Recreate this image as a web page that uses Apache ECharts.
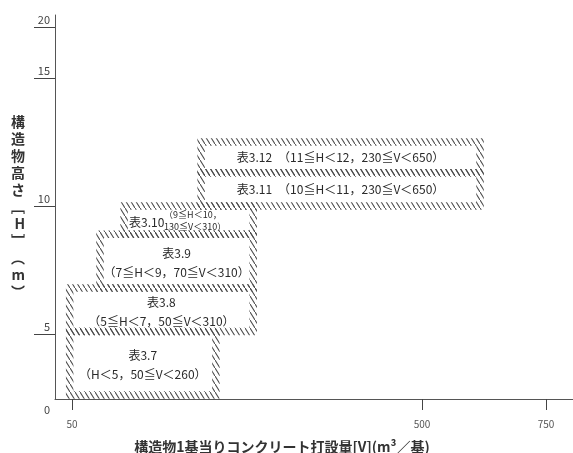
<!DOCTYPE html>
<html>
<head>
<meta charset="utf-8">
<script src="https://cdn.jsdelivr.net/npm/echarts@6/dist/echarts.min.js"></script>
<style>
html, body { margin: 0; padding: 0; background: #fff; }
#chart { width: 573px; height: 453px; }
</style>
</head>
<body>
<div id="chart"></div>
<script>
var tableNames = ['表3.7', '表3.8', '表3.9', '表3.10', '表3.11', '表3.12'];
var rangeTexts = [
    '（H＜5，50≦V＜260）',
    '（5≦H＜7，50≦V＜310）',
    '（7≦H＜9，70≦V＜310）',
    '（9≦H＜10，\n130≦V＜310）',
    '（10≦H＜11，230≦V＜650）',
    '（11≦H＜12，230≦V＜650）'
];
// box extents as they are drawn (V in m3, H in m)
var vFrom = [47, 47, 86, 117, 216, 216];
var vTo   = [235, 283, 283, 283, 617, 617];
var hFrom = [0.3, 5.1, 6.8, 8.9, 10.0, 11.3];
var hTo   = [5.1, 6.8, 8.9, 10.0, 11.3, 12.5];

var xTicks = [50, 500, 750];
var yTicks = [0, 5, 10, 15, 20];

// the printed axes are not linear, so each one is a piecewise scale
var xStops = { value: [50, 500, 750], unit: [17, 367, 491] };
var yStops = { value: [0, 5, 15, 20], unit: [0, 2.54, 12.54, 14.53] };

function warp(stops, v) {
    var a = stops.value, b = stops.unit, n = a.length, i = 0;
    if (v >= a[n - 1]) {
        i = n - 2;
    } else {
        while (i < n - 2 && v > a[i + 1]) i++;
    }
    return b[i] + (v - a[i]) * (b[i + 1] - b[i]) / (a[i + 1] - a[i]);
}
function warpX(v) { return warp(xStops, v); }
function warpY(v) { return warp(yStops, v); }

function tickIndex(list, fn, u) {
    for (var i = 0; i < list.length; i++) {
        if (Math.abs(fn(list[i]) - u) < 1e-6) return i;
    }
    return -1;
}

function makeHatch() {
    var c = document.createElement('canvas');
    c.width = 5;
    c.height = 8;
    var g = c.getContext('2d');
    g.strokeStyle = '#4a4a4a';
    g.lineWidth = 1.1;
    g.beginPath();
    g.moveTo(-5, -8);
    g.lineTo(10, 16);
    g.stroke();
    return c;
}
var hatch = makeHatch();
var FONT = '"Noto Sans CJK JP", "Noto Sans", sans-serif';

var boxes = [];
for (var i = 0; i < tableNames.length; i++) {
    boxes.push([i, warpX(vFrom[i]), warpX(vTo[i]), warpY(hFrom[i]), warpY(hTo[i])]);
}

function renderBox(params, api) {
    var k = api.value(0);
    var p0 = api.coord([api.value(1), api.value(4)]);
    var p1 = api.coord([api.value(2), api.value(3)]);
    var x = p0[0], y = p0[1], w = p1[0] - p0[0], h = p1[1] - p0[1];
    var cx = x + w / 2, cy = y + h / 2;
    var kids = [{
        type: 'rect',
        shape: { x: x, y: y, width: w, height: h },
        style: { fill: null, stroke: { image: hatch, repeat: 'repeat' }, lineWidth: 7.5 }
    }];
    var txt = { fill: '#2a2a2a', fontFamily: FONT, fontSize: 12 };
    if (rangeTexts[k].indexOf('\n') >= 0) {
        // narrow box: title left, small two-line range beside it
        kids.push({ type: 'text', style: Object.assign({}, txt, {
            text: tableNames[k], x: x + 5, y: cy + 2, align: 'left', verticalAlign: 'middle'
        }) });
        kids.push({ type: 'text', style: Object.assign({}, txt, {
            text: rangeTexts[k], x: x + 40, y: cy + 1, align: 'left', verticalAlign: 'middle',
            fontSize: 9, lineHeight: 12
        }) });
    } else if (h < 40) {
        kids.push({ type: 'text', style: Object.assign({}, txt, {
            text: tableNames[k] + '　' + rangeTexts[k], x: cx, y: cy, align: 'center', verticalAlign: 'middle'
        }) });
    } else {
        kids.push({ type: 'text', style: Object.assign({}, txt, {
            text: tableNames[k] + '\n' + rangeTexts[k], x: cx, y: cy + 2, align: 'center', verticalAlign: 'middle',
            lineHeight: 19
        }) });
    }
    return { type: 'group', children: kids };
}

var chart = echarts.init(document.getElementById('chart'));
var option = {
    animation: false,
    grid: { left: 55, right: 0, top: 15, bottom: 54, outerBoundsMode: 'none' },
    xAxis: {
        type: 'value',
        min: 0,
        max: 518,
        axisLine: { lineStyle: { color: '#555', width: 1 } },
        axisTick: { show: true, customValues: xTicks.map(warpX), length: 11, lineStyle: { color: '#444' } },
        axisLabel: {
            customValues: xTicks.map(warpX),
            margin: 20,
            fontSize: 10,
            color: '#555',
            fontFamily: FONT,
            formatter: function (u) {
                var i = tickIndex(xTicks, warpX, u);
                return i < 0 ? '' : String(xTicks[i]);
            }
        },
        splitLine: { show: false },
        name: '構造物1基当りコンクリート打設量[V](m³／基)',
        nameLocation: 'middle',
        nameGap: 41,
        nameTextStyle: { fontSize: 14, fontWeight: 'bold', color: '#333', fontFamily: FONT, padding: [0, 64, 0, 0] }
    },
    yAxis: {
        type: 'value',
        min: 0,
        max: 15,
        axisLine: { show: true, lineStyle: { color: '#555', width: 1 } },
        axisTick: { show: true, customValues: [5, 10, 15, 20].map(warpY), length: 21, lineStyle: { color: '#444' } },
        axisLabel: {
            customValues: yTicks.map(warpY),
            margin: 5,
            formatter: function (u) {
                var i = tickIndex(yTicks, warpY, u);
                if (i < 0) return '';
                return i === 0 ? '{z|0}' : '{t|' + yTicks[i] + '}';
            },
            rich: {
                t: { fontSize: 11, color: '#444', fontFamily: FONT, padding: [0, 0, 14, 0] },
                z: { fontSize: 11, color: '#444', fontFamily: FONT, padding: [22, 0, 0, 0] }
            }
        },
        splitLine: { show: false },
        name: '構\n造\n物\n高\nさ\n﹇\nH\n﹈\n︵\nm\n︶',
        nameLocation: 'middle',
        nameRotate: 0,
        nameGap: 30,
        nameTextStyle: { fontSize: 14, lineHeight: 17, fontWeight: 'bold', color: '#333', fontFamily: FONT }
    },
    series: [{
        type: 'custom',
        renderItem: renderBox,
        clip: false,
        silent: true,
        encode: { x: [1, 2], y: [3, 4] },
        data: boxes
    }]
};
chart.setOption(option);
</script>
</body>
</html>
